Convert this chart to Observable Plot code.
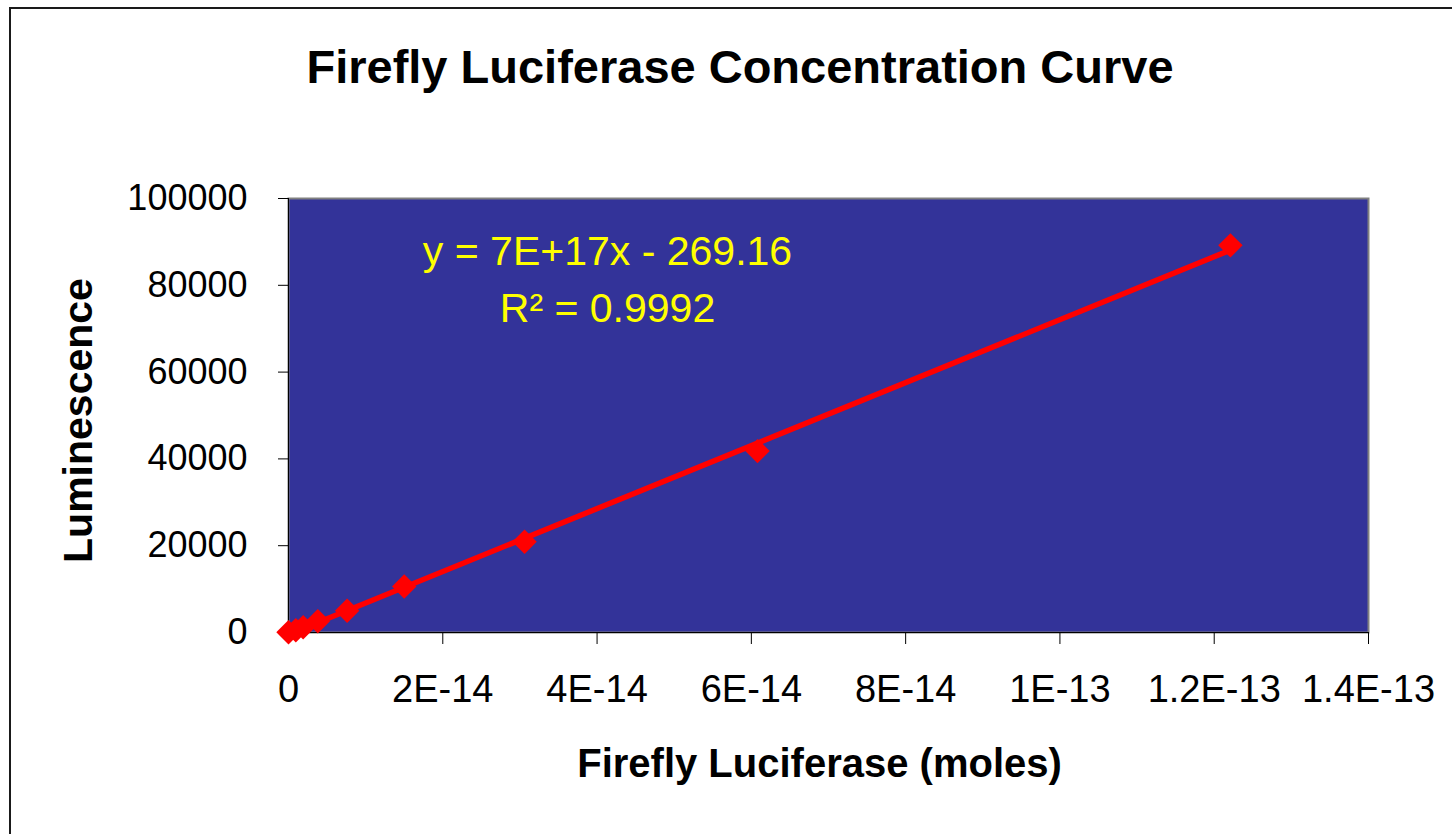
<!DOCTYPE html>
<html>
<head>
<meta charset="utf-8">
<script src="https://cdn.jsdelivr.net/npm/d3@7"></script>
<script src="https://cdn.jsdelivr.net/npm/@observablehq/plot@0.6"></script>
<style>
  html, body { margin: 0; padding: 0; background: #fff; overflow: hidden; }
  body { width: 1452px; height: 834px; position: relative; font-family: "Liberation Sans", Arial, sans-serif; }
  #frame { position: absolute; left: 9px; top: 7px; width: 1480px; height: 900px; border: 2px solid #1a1a1a; box-sizing: border-box; }
  #title { position: absolute; left: 0; top: 0; width: 1480px; height: 130px; box-sizing: border-box; padding-top: 44px;
           text-align: center; font: bold 47px/46px "Liberation Sans", Arial, sans-serif; color: #000; }
  #chart { position: absolute; left: 0; top: 130px; }
</style>
</head>
<body>
<div id="title">Firefly Luciferase Concentration Curve</div>
<div id="frame"></div>
<div id="chart"></div>
<script>
// Data
const moles = [0, 9.5e-16, 1.9e-15, 3.8e-15, 7.6e-15, 1.50e-14, 3.06e-14, 6.08e-14, 1.221e-13];
const luminescence = [50, 500, 1200, 2600, 5000, 10600, 20900, 41800, 89200];
const xTicks = [0, 2e-14, 4e-14, 6e-14, 8e-14, 1e-13, 1.2e-13, 1.4e-13];
const xTickLabels = ["0", "2E-14", "4E-14", "6E-14", "8E-14", "1E-13", "1.2E-13", "1.4E-13"];
const yTicks = [0, 20000, 40000, 60000, 80000, 100000];
const equationLines = ["y = 7E+17x - 269.16", "R² = 0.9992"];
const equationX = [4.135e-14, 4.135e-14];
const equationY = [84600, 71500];

const data = moles.map((m, i) => ({x: m, y: luminescence[i]}));
const eqData = equationLines.map((t, i) => ({t, x: equationX[i], y: equationY[i]}));

const font = "'Liberation Sans', Arial, sans-serif";
const plot = Plot.plot({
  width: 1452,
  height: 704,
  marginLeft: 288,
  marginRight: 84,
  marginTop: 68,
  marginBottom: 202,
  style: {fontFamily: font, background: "transparent", color: "#000"},
  x: {domain: [0, 1.4e-13], label: null},
  y: {domain: [0, 100000], label: null},
  marks: [
    Plot.frame({fill: "#333399", stroke: "#808080", strokeWidth: 2}),
    Plot.ruleX([0], {stroke: "#000", strokeWidth: 1}),
    Plot.ruleY([0], {stroke: "#000", strokeWidth: 1}),
    Plot.axisX({ticks: xTicks, tickFormat: (d, i) => xTickLabels[i], tickSize: 12, tickPadding: 31, fontSize: 38, label: null, stroke: "#000"}),
    Plot.axisY({ticks: yTicks, tickFormat: d => String(d), tickSize: 10, tickPadding: 31, fontSize: 36, label: null, stroke: "#000"}),
    Plot.linearRegressionY(data, {x: "x", y: "y", ci: 0, stroke: "#ff0000", strokeWidth: 5.5}),
    Plot.dot(data, {x: "x", y: "y", symbol: "diamond2", r: 11, fill: "#ff0000", stroke: "none"}),
    Plot.text(eqData, {x: "x", y: "y", text: "t", fill: "#ffff00", fontSize: 41, lineAnchor: "bottom"}),
    Plot.text(["Luminescence"], {frameAnchor: "left", textAnchor: "middle", dx: -210, dy: 5, rotate: -90, fontSize: 41, fontWeight: "bold", fill: "#000"}),
    Plot.text(["Firefly Luciferase (moles)"], {frameAnchor: "bottom", textAnchor: "middle", dx: -9, dy: 132, fontSize: 40, fontWeight: "bold", fill: "#000", lineAnchor: "middle"})
  ]
});
document.getElementById("chart").appendChild(plot);
</script>
</body>
</html>
